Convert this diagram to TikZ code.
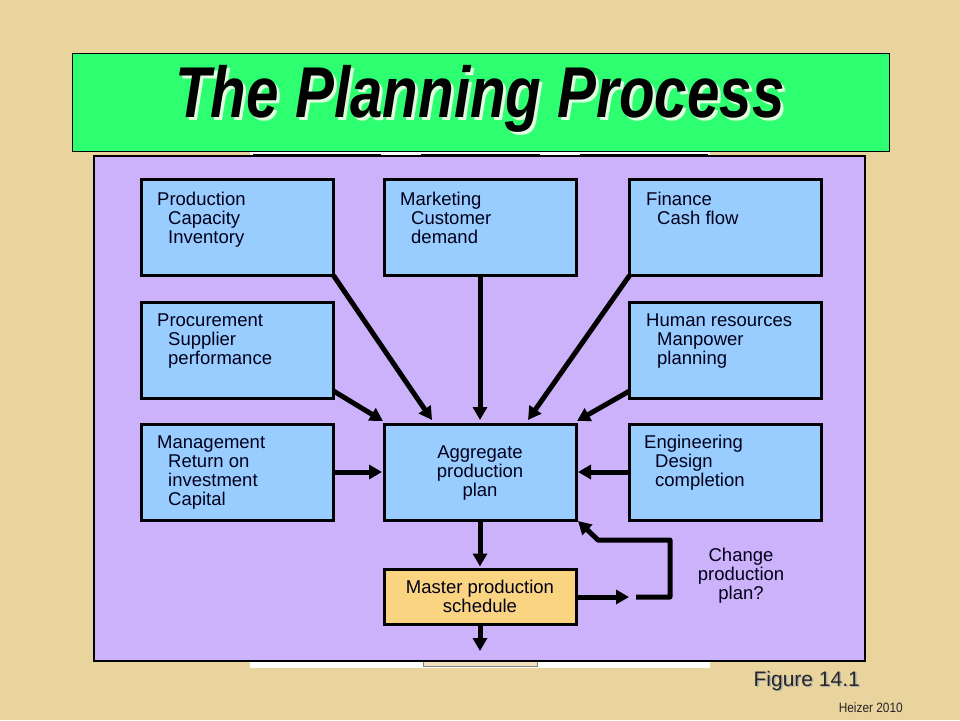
\documentclass[tikz,border=0pt]{standalone}
\usepackage{fontspec}
\setmainfont{Liberation Sans}
\usetikzlibrary{arrows.meta,calc}
\definecolor{bgtan}{RGB}{234,212,158}
\definecolor{titlegreen}{RGB}{46,255,112}
\definecolor{panelpurple}{RGB}{204,178,250}
\definecolor{boxblue}{RGB}{153,204,255}
\definecolor{boxgold}{RGB}{250,212,128}
\newcommand\llines[1]{\begin{tabular}[t]{@{}l@{}}#1\end{tabular}}
\newcommand\clines[1]{\begin{tabular}[t]{@{}c@{}}#1\end{tabular}}
\newcommand\ind{\hspace*{11pt}}
\begin{document}
\begin{tikzpicture}[x=1pt,y=-1pt,
  bluebox/.style={draw=black,line width=3pt,fill=boxblue,minimum width=192pt,minimum height=96pt,inner sep=0pt,outer sep=0pt},
  goldbox/.style={draw=black,line width=3pt,fill=boxgold,minimum width=192pt,minimum height=55pt,inner sep=0pt,outer sep=0pt},
  boxtext/.style={inner sep=0pt,font=\fontsize{18.5}{19}\selectfont,text=black!90!blue},
  flow/.style={line width=5pt,-{Triangle[length=13pt,width=14pt]}},
]
\useasboundingbox (0,0) rectangle (960,720);
\fill[bgtan] (0,0) rectangle (960,720);
% white strips behind panel
\fill[white] (250,150) rectangle (710,159);
\foreach \a/\b in {253/381,421/540,580/708}{\draw[line width=3pt] (\a,155) -- (\b,155);}
\fill[white] (250,658) rectangle (710,668);
\draw[gray,fill=bgtan!70!white,line width=1pt] (423,658) rectangle (537,666);
% title
\node[draw=black,line width=1pt,fill=titlegreen,minimum width=817pt,minimum height=98pt,inner sep=0pt] (title) at (480.5,102) {};
\node[inner sep=0pt,anchor=base,text=green!12!white] at (483,120) {\scalebox{0.81}[1]{\fontsize{72}{72}\selectfont\bfseries\itshape The Planning Process}};
\node[inner sep=0pt,anchor=base] at (480,117) {\scalebox{0.81}[1]{\fontsize{72}{72}\selectfont\bfseries\itshape The Planning Process}};
% panel
\draw[line width=2pt,fill=panelpurple] (94,156) rectangle (865,661);
% boxes
\node[bluebox] (prod) at (237.5,227.5) {};
\node[bluebox] (mkt) at (480,227.5) {};
\node[bluebox] (fin) at (725.5,227.5) {};
\node[bluebox] (proc) at (237.5,350) {};
\node[bluebox] (hr) at (725.5,350) {};
\node[bluebox] (mgmt) at (237.5,472) {};
\node[bluebox] (agg) at (480,472) {};
\node[bluebox] (eng) at (725.5,472) {};
\node[goldbox] (mps) at (480,597) {};
% texts
\node[boxtext,anchor=base west] (prodt) at (157,205) {\llines{Production\\\ind Capacity\\\ind Inventory}};
\node[boxtext,anchor=base west] (mktt) at (400,205) {\llines{Marketing\\\ind Customer\\\ind demand}};
\node[boxtext,anchor=base west] (fint) at (646,205) {\llines{Finance\\\ind Cash flow}};
\node[boxtext,anchor=base west] (proct) at (157,326) {\llines{Procurement\\\ind Supplier\\\ind performance}};
\node[boxtext,anchor=base west] (hrt) at (646,326) {\llines{Human resources\\\ind Manpower\\\ind planning}};
\node[boxtext,anchor=base west] (mgmtt) at (157,448) {\llines{Management\\\ind Return on\\\ind investment\\\ind Capital}};
\node[boxtext,anchor=base west] (engt) at (644,448) {\llines{Engineering\\\ind Design\\\ind completion}};
\node[boxtext,anchor=base] (aggt) at (480,458) {\clines{Aggregate\\production\\plan}};
\node[boxtext,anchor=base] (mpst) at (480,593) {\clines{Master production\\schedule}};
\node[boxtext,anchor=base] (chg) at (741,561) {\clines{Change\\production\\plan?}};
% coordinates
\coordinate (down) at (480,651);
\coordinate (gap) at (629,597);
\coordinate (fbstart) at (636,597);
\coordinate (fbc1) at (670,597);
\coordinate (fbc2) at (670,540);
\coordinate (fbc3) at (598,540);
% arrows
\draw[flow] (prod.south east) -- ([xshift=-48pt,yshift=4pt]agg.north);
\draw[flow] (mkt.south) -- ([yshift=4pt]agg.north);
\draw[flow] (fin.south west) -- ([xshift=48pt,yshift=4pt]agg.north);
\draw[flow] ([yshift=7pt]proc.south east) -- ([xshift=-1pt,yshift=3pt]agg.north west);
\draw[flow] ([yshift=7pt]hr.south west) -- ([xshift=1pt,yshift=3pt]agg.north east);
\draw[flow] (mgmt.east) -- ([xshift=-2pt]agg.west);
\draw[flow] (eng.west) -- ([xshift=2pt]agg.east);
\draw[flow] (agg.south) -- ([yshift=3pt]mps.north);
\draw[flow] (mps.south) -- (down);
\draw[flow] (mps.east) -- (gap);
\draw[flow,line join=round] (fbstart) -- (fbc1) -- (fbc2) -- (fbc3) -- ([xshift=2pt,yshift=-1pt]agg.south east);
% footer
\node[inner sep=0pt,anchor=base east,font=\fontsize{21}{21}\selectfont,text=gray!60] at (861.5,687.5) {Figure 14.1};
\node[inner sep=0pt,anchor=base east,font=\fontsize{21}{21}\selectfont,text=black!85] (fig) at (860,686) {Figure 14.1};
\node[inner sep=0pt,anchor=base east,font=\fontsize{13.5}{13.5}\selectfont,text=black!85] (heiz) at (903,712) {\scalebox{0.88}[1]{Heizer 2010}};
\end{tikzpicture}
\end{document}
